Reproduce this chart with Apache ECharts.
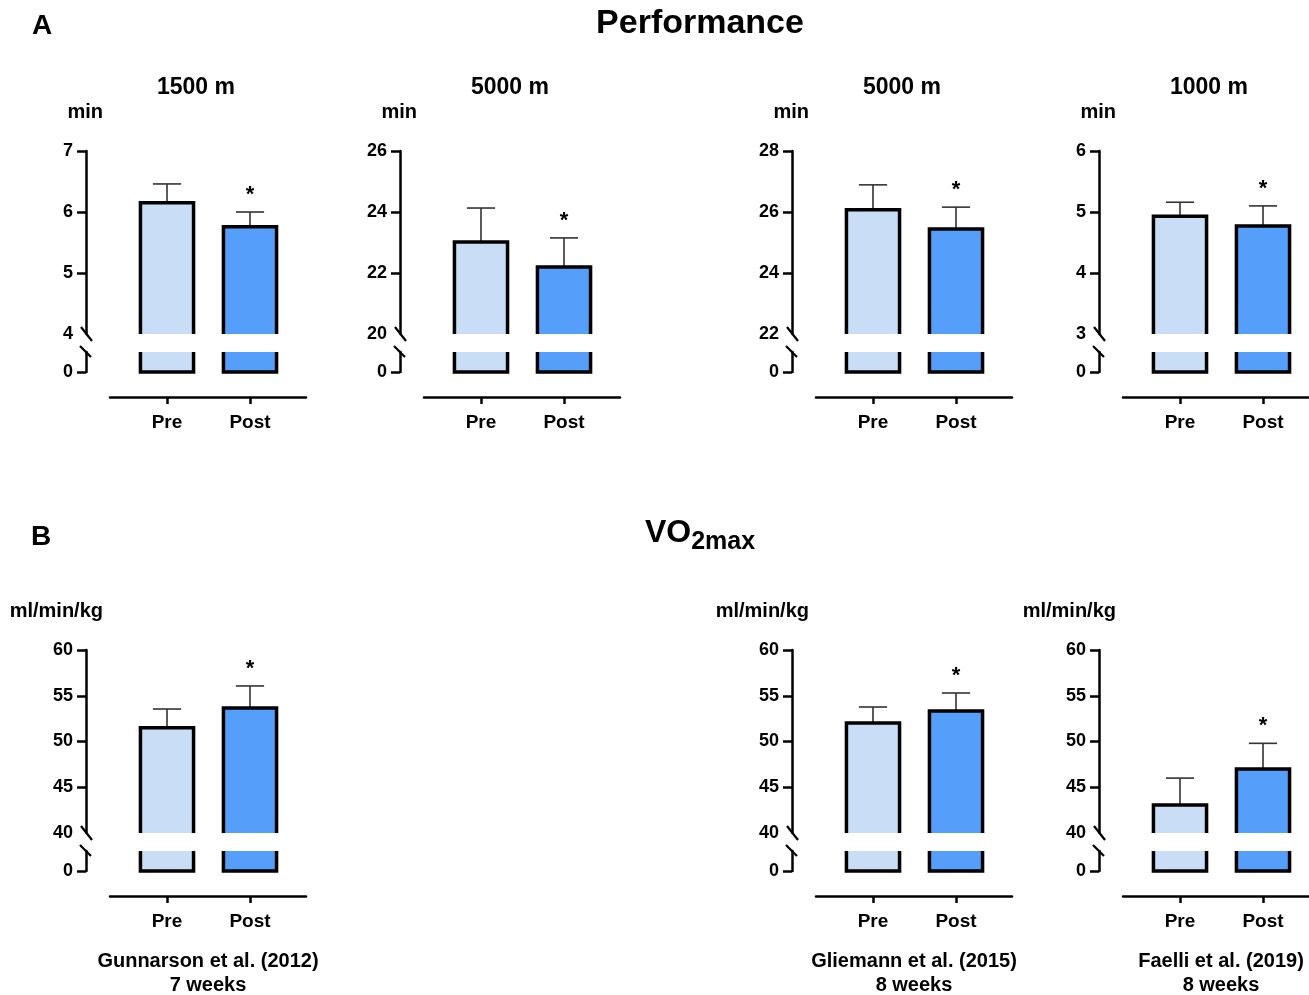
<!DOCTYPE html>
<html>
<head>
<meta charset="utf-8">
<script src="https://cdn.jsdelivr.net/npm/echarts@6/dist/echarts.min.js"></script>
<style>
  html, body { margin: 0; padding: 0; background: #fff; }
  #container { width: 1309px; height: 995px; }
</style>
</head>
<body>
<div id="container"></div>
<script>
var groups = ['Pre', 'Post'];

// A - performance (min)
var perfTitles = ['1500 m', '5000 m', '5000 m', '1000 m'];
var perfTicks = [[4, 5, 6, 7], [20, 22, 24, 26], [22, 24, 26, 28], [3, 4, 5, 6]];
var perfMean = [[6.15, 5.76], [23.02, 22.20], [26.07, 25.44], [4.93, 4.77]];
var perfSD = [[0.31, 0.24], [1.11, 0.95], [0.82, 0.72], [0.23, 0.33]];
var perfSig = [[0, 1], [0, 1], [0, 1], [0, 1]];

// B - VO2max (ml/min/kg)
var vo2Ticks = [40, 45, 50, 55, 60];
var vo2Studies = ['Gunnarson et al. (2012)', 'Gliemann et al. (2015)', 'Faelli et al. (2019)'];
var vo2Weeks = ['7 weeks', '8 weeks', '8 weeks'];
var vo2Mean = [[51.50, 53.66], [52.02, 53.33], [43.06, 47.00]];
var vo2SD = [[2.05, 2.41], [1.75, 1.97], [2.94, 2.80]];
var vo2Sig = [[0, 1], [0, 1], [0, 1]];

// layout
var FONT = '"Liberation Sans", Arial, sans-serif';
var barColors = ['#c9ddf6', '#559ffb'];
var colAxisX = [86, 400, 792, 1099];
var vo2Cols = [0, 2, 3];
var AXIS_OFF = 24, GRID_W = 196, PX_UNIT = 83, PRE_OFF = 57;
var X_MIN = -PRE_OFF / PX_UNIT, X_MAX = X_MIN + GRID_W / PX_UNIT;
var UPPER_H = 183, GAP = 18, LOWER_H = 20, XAXIS_OFF = 25;
var HALF_BAR = 0.32, HALF_CAP = 0.17;

function renderUpper(params, api) {
  var cs = params.coordSys;
  var x = api.value(0), v = api.value(1), sd = api.value(2), sig = api.value(3);
  var l = api.coord([x - HALF_BAR, v]), r = api.coord([x + HALF_BAR, v]);
  var base = cs.y + cs.height, top = l[1];
  var err = api.coord([x, v + sd]);
  var cl = api.coord([x - HALF_CAP, v + sd])[0], cr = api.coord([x + HALF_CAP, v + sd])[0];
  var kids = [
    { type: 'line', shape: { x1: err[0], y1: top, x2: err[0], y2: err[1] }, style: { stroke: '#333', lineWidth: 1.6 } },
    { type: 'line', shape: { x1: cl, y1: err[1], x2: cr, y2: err[1] }, style: { stroke: '#333', lineWidth: 1.6 } },
    { type: 'rect', shape: { x: l[0], y: top, width: r[0] - l[0], height: base - top }, style: { fill: barColors[params.dataIndex] } },
    { type: 'polyline', shape: { points: [[l[0], base], [l[0], top], [r[0], top], [r[0], base]] },
      style: { stroke: '#000', lineWidth: 3.5, fill: null, lineJoin: 'miter' } }
  ];
  if (sig) {
    kids.push({ type: 'text', x: err[0], y: err[1] - 17,
      style: { text: '*', fill: '#000', font: 'bold 22px ' + FONT, align: 'center', verticalAlign: 'middle' } });
  }
  return { type: 'group', children: kids };
}

function renderLower(params, api) {
  var cs = params.coordSys;
  var x = api.value(0);
  var l = api.coord([x - HALF_BAR, 0]), r = api.coord([x + HALF_BAR, 0]);
  var y0 = l[1], top = cs.y;
  return { type: 'group', children: [
    { type: 'rect', shape: { x: l[0], y: top, width: r[0] - l[0], height: y0 - top }, style: { fill: barColors[params.dataIndex] } },
    { type: 'polyline', shape: { points: [[l[0], top], [l[0], y0], [r[0], y0], [r[0], top]] },
      style: { stroke: '#000', lineWidth: 3.5, fill: null, lineJoin: 'miter' } }
  ] };
}

function renderBreak(params, api) {
  var cs = params.coordSys;
  var ax = cs.x - AXIS_OFF, yUp = cs.y - GAP, yLo = cs.y;
  var st = { stroke: '#000', lineWidth: 2.2 };
  return { type: 'group', children: [
    { type: 'line', shape: { x1: ax - 5, y1: yUp - 7, x2: ax + 6, y2: yUp + 7 }, style: st },
    { type: 'line', shape: { x1: ax - 6, y1: yLo - 6, x2: ax + 5, y2: yLo + 5 }, style: st }
  ] };
}

var option = { animation: false, backgroundColor: '#fff', grid: [], xAxis: [], yAxis: [], series: [], graphic: [] };

var axisLineStyle = { color: '#000', width: 2.5 };
var labelStyle = { color: '#000', fontWeight: 'bold', fontFamily: FONT };

function addPanel(axisX, top, ticks, mean, sd, sig) {
  var gi = option.grid.length;
  var left = axisX + AXIS_OFF;
  option.grid.push({ left: left, top: top, width: GRID_W, height: UPPER_H, outerBoundsMode: 'none', containLabel: false });
  option.grid.push({ left: left, top: top + UPPER_H + GAP, width: GRID_W, height: LOWER_H, outerBoundsMode: 'none', containLabel: false });

  option.xAxis.push({ gridIndex: gi, type: 'value', min: X_MIN, max: X_MAX, show: false });
  option.xAxis.push({
    gridIndex: gi + 1, type: 'value', min: X_MIN, max: X_MAX, position: 'bottom', offset: XAXIS_OFF,
    axisLine: { show: true, onZero: false, lineStyle: axisLineStyle },
    axisTick: { show: true, length: 7, customValues: [0, 1], lineStyle: axisLineStyle },
    axisLabel: Object.assign({ fontSize: 19, margin: 16, customValues: [0, 1],
      formatter: function (v) { return groups[Math.round(v)]; } }, labelStyle),
    splitLine: { show: false }
  });

  var step = ticks[1] - ticks[0];
  option.yAxis.push({
    gridIndex: gi, type: 'value', min: ticks[0], max: ticks[ticks.length - 1], interval: step, offset: AXIS_OFF,
    axisLine: { show: true, onZero: false, lineStyle: axisLineStyle },
    axisTick: { show: true, length: 9, customValues: ticks.slice(1), lineStyle: axisLineStyle },
    axisLabel: Object.assign({ fontSize: 18, margin: 13, customValues: ticks }, labelStyle),
    splitLine: { show: false }
  });
  option.yAxis.push({
    gridIndex: gi + 1, type: 'value', min: 0, max: 1, interval: 1, offset: AXIS_OFF,
    axisLine: { show: true, onZero: false, lineStyle: axisLineStyle },
    axisTick: { show: true, length: 9, customValues: [0], lineStyle: axisLineStyle },
    axisLabel: Object.assign({ fontSize: 18, margin: 13, customValues: [0] }, labelStyle),
    splitLine: { show: false }
  });

  var data = mean.map(function (m, i) { return [i, m, sd[i], sig[i]]; });
  option.series.push({ type: 'custom', xAxisIndex: gi, yAxisIndex: gi, renderItem: renderUpper, data: data, z: 3 });
  option.series.push({ type: 'custom', xAxisIndex: gi + 1, yAxisIndex: gi + 1, renderItem: renderLower, data: data, z: 3 });
  option.series.push({ type: 'custom', xAxisIndex: gi + 1, yAxisIndex: gi + 1, renderItem: renderBreak, data: [[0, 0]], z: 3 });
}

function addText(text, x, y, size, align) {
  option.graphic.push({ type: 'text', x: x, y: y, z: 10,
    style: { text: text, fill: '#000', font: 'bold ' + size + 'px ' + FONT, align: align || 'center', verticalAlign: 'middle' } });
}

// row A
addText('A', 42, 26, 28);
addText('Performance', 700, 24, 34);
perfTitles.forEach(function (t, c) {
  var ax = colAxisX[c];
  addPanel(ax, 151, perfTicks[c], perfMean[c], perfSD[c], perfSig[c]);
  addText(t, ax + 110, 88, 23);
  addText('min', ax + 17, 112, 20, 'right');
});

// row B
addText('B', 41, 537, 28);
option.graphic.push({ type: 'text', x: 700, y: 533, z: 10,
  style: { text: '{a|VO}{b|2max}', align: 'center', verticalAlign: 'middle', fill: '#000',
    rich: { a: { fontSize: 32, fontWeight: 'bold', fontFamily: FONT, fill: '#000' },
            b: { fontSize: 25, fontWeight: 'bold', fontFamily: FONT, fill: '#000', padding: [18, 0, 0, 0] } } } });
vo2Studies.forEach(function (s, k) {
  var ax = colAxisX[vo2Cols[k]];
  addPanel(ax, 650, vo2Ticks, vo2Mean[k], vo2SD[k], vo2Sig[k]);
  addText('ml/min/kg', ax + 17, 611, 20, 'right');
  addText(s, ax + 122, 961, 20);
  addText(vo2Weeks[k], ax + 122, 985, 20);
});

var myChart = echarts.init(document.getElementById('container'));
myChart.setOption(option);
</script>
</body>
</html>
